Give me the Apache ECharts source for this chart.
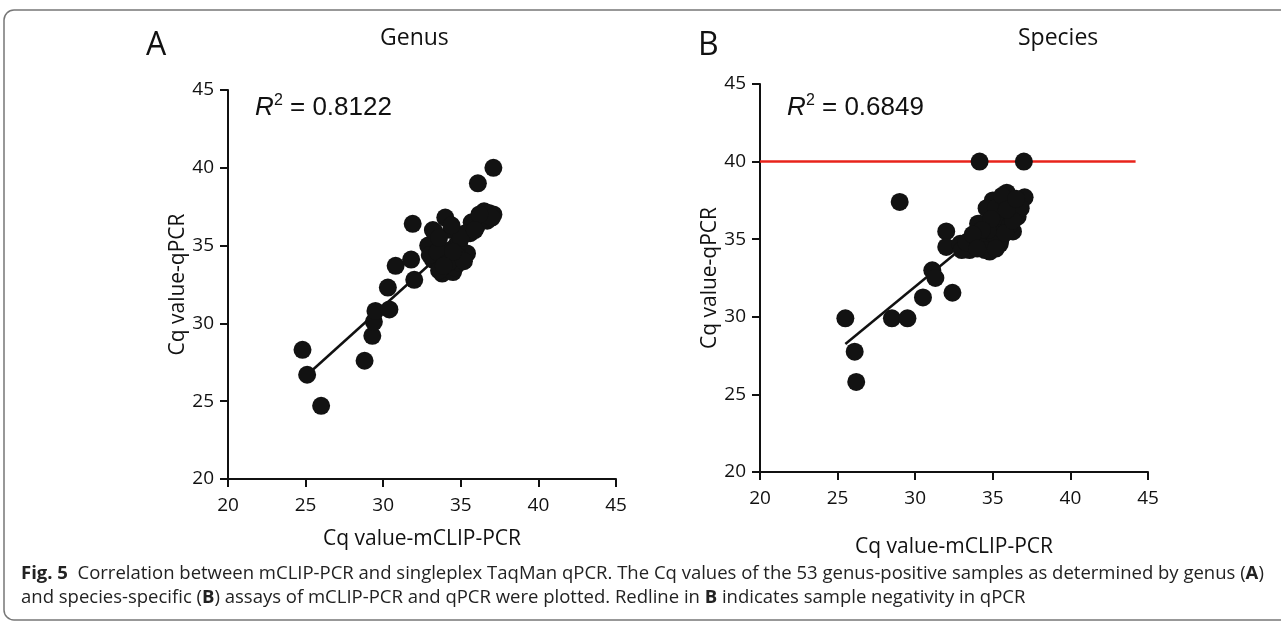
<!DOCTYPE html>
<html>
<head>
<meta charset="utf-8">
<script src="https://cdn.jsdelivr.net/npm/echarts@6/dist/echarts.min.js"></script>
<style>
  html, body { margin: 0; padding: 0; background: #fff; }
  #chart { width: 1281px; height: 623px; }
</style>
</head>
<body>
<div id="chart"></div>
<script>
// axis ticks shared by both panels
const axisMin = 20
const axisMax = 45
const axisStep = 5

// panel A: genus assay, [mCLIP-PCR Cq, qPCR Cq]
const genusPoints = [
  [24.8, 28.3], [25.1, 26.7], [26.0, 24.7], [28.8, 27.6], [29.3, 29.2],
  [29.4, 30.1], [29.5, 30.8], [30.4, 30.9], [30.3, 32.3], [30.8, 33.7],
  [31.8, 34.1], [32.0, 32.8], [31.9, 36.4], [33.3, 35.9], [32.9, 35.0],
  [34.0, 36.8], [33.2, 34.1], [33.8, 33.2], [34.5, 33.3], [35.4, 34.5],
  [35.6, 35.8], [36.1, 39.0], [37.1, 40.0], [36.3, 36.9], [36.8, 37.1],
  [37.1, 37.0], [36.5, 37.2], [36.0, 36.2], [33.2, 36.0], [34.4, 36.0],
  [34.7, 35.0], [34.1, 34.1], [33.6, 33.4], [34.6, 33.6], [34.9, 33.9],
  [34.3, 34.7], [35.7, 36.5], [35.3, 35.8], [33.0, 34.4], [33.5, 34.6],
  [34.9, 35.2], [34.8, 34.3], [35.0, 35.5], [36.7, 36.6], [37.0, 36.8],
  [33.6, 35.5], [34.2, 33.9], [35.2, 34.0], [36.2, 37.0], [34.5, 34.6],
  [33.9, 33.7], [35.9, 36.0], [34.4, 36.3]
]
const genusFit = [[25.5, 27.05], [37.0, 37.4]]

// panel B: species assay
const speciesPoints = [
  [25.5, 29.9], [26.1, 27.75], [26.2, 25.8], [28.5, 29.9], [29.5, 29.9],
  [29.0, 37.4], [30.5, 31.25], [32.4, 31.55], [31.1, 33.0], [31.3, 32.5],
  [32.0, 35.5], [32.0, 34.5], [34.15, 40.0], [37.0, 40.0], [37.05, 37.7],
  [35.9, 38.0], [35.0, 37.5], [34.6, 37.0], [36.6, 36.45], [34.15, 36.0],
  [36.3, 35.5], [35.45, 34.7], [34.8, 34.2], [33.5, 34.3], [32.9, 34.7],
  [35.6, 36.0], [34.05, 36.0], [33.0, 34.3], [33.8, 34.6], [34.4, 34.8],
  [35.0, 35.4], [35.5, 35.0], [36.0, 36.8], [35.3, 36.5], [34.7, 35.6],
  [34.0, 35.1], [35.8, 37.2], [36.4, 37.3], [35.2, 37.0], [34.5, 34.3],
  [33.3, 34.8], [36.1, 35.9], [35.8, 35.4], [34.9, 36.3], [35.6, 37.8],
  [36.8, 37.0], [34.3, 35.6], [35.2, 34.4], [36.3, 36.2], [33.7, 35.3],
  [34.0, 34.4], [35.9, 36.9], [36.5, 37.6]
]
const speciesFit = [[25.5, 28.25], [37.0, 37.7]]
const negativeLine = [[20, 40], [44.2, 40]]

const fontMain = '"Open Sans", sans-serif'

function makeAxis(gridIndex, name, gap, labelMargin) {
  return {
    type: 'value',
    gridIndex,
    min: axisMin,
    max: axisMax,
    interval: axisStep,
    name,
    nameLocation: 'middle',
    nameGap: gap,
    nameTextStyle: { fontFamily: fontMain, fontSize: 21, color: '#111' },
    axisLine: { show: true, lineStyle: { color: '#111', width: 2 } },
    axisTick: { show: true, length: 8, lineStyle: { color: '#111', width: 2 } },
    axisLabel: { fontFamily: fontMain, fontSize: 19, color: '#111', margin: labelMargin },
    splitLine: { show: false }
  }
}

function dots(xi, data) {
  return {
    type: 'scatter', xAxisIndex: xi, yAxisIndex: xi, data,
    symbolSize: 18, itemStyle: { color: '#121212', opacity: 1 },
    silent: true, z: 3
  }
}

function fitLine(xi, data, color, width, z) {
  return {
    type: 'line', xAxisIndex: xi, yAxisIndex: xi, data,
    symbol: 'none', lineStyle: { color, width }, silent: true, z
  }
}

function r2(x, value) {
  return [
    { type: 'text', left: x, top: 95, style: { text: 'R', font: 'italic 26px "Liberation Sans"', fill: '#111' } },
    { type: 'text', left: x + 19, top: 93, style: { text: '2', font: '16px "Liberation Sans"', fill: '#111' } },
    { type: 'text', left: x + 35, top: 95, style: { text: '= ' + value, font: '26px "Liberation Sans"', fill: '#111' } }
  ]
}

const chart = echarts.init(document.getElementById('chart'))

chart.setOption({
  animation: false,
  grid: [
    { left: 228, right: 665, top: 90, bottom: 144 },
    { left: 760, right: 133, top: 84, bottom: 151 }
  ],
  xAxis: [
    makeAxis(0, 'Cq value-mCLIP-PCR', 50, 17),
    makeAxis(1, 'Cq value-mCLIP-PCR', 65, 17)
  ],
  yAxis: [
    makeAxis(0, 'Cq value-qPCR', 37, 14),
    makeAxis(1, 'Cq value-qPCR', 37, 14)
  ],
  series: [
    fitLine(0, genusFit, '#111', 2.5, 2),
    dots(0, genusPoints),
    fitLine(1, speciesFit, '#111', 2.5, 2),
    fitLine(1, negativeLine, '#e8231b', 2.5, 1),
    dots(1, speciesPoints)
  ],
  graphic: [
    { type: 'rect', shape: { x: 4, y: 10, width: 1300, height: 610, r: 10 },
      style: { fill: 'none', stroke: '#777', lineWidth: 1.5 }, silent: true },
    { type: 'text', left: 146, top: 30, style: { text: 'A', font: '32px "Open Sans"', fill: '#111' } },
    { type: 'text', left: 380, top: 27, style: { text: 'Genus', font: '23px "Open Sans"', fill: '#111' } },
    { type: 'text', left: 698, top: 30, style: { text: 'B', font: '32px "Open Sans"', fill: '#111' } },
    { type: 'text', left: 1018, top: 27, style: { text: 'Species', font: '23px "Open Sans"', fill: '#111' } },
    ...r2(255, '0.8122'),
    ...r2(787, '0.6849'),
    {
      type: 'text', left: 21, top: 562,
      style: {
        text: '{b|Fig. 5}  Correlation between mCLIP-PCR and singleplex TaqMan qPCR. The Cq values of the 53 genus-positive samples as determined by genus ({b|A})\n' +
              'and species-specific ({b|B}) assays of mCLIP-PCR and qPCR were plotted. Redline in {b|B} indicates sample negativity in qPCR',
        font: '18.5px "Open Sans"',
        fill: '#222',
        lineHeight: 24,
        rich: {
          b: { fontWeight: 'bold', fontFamily: 'Open Sans', fontSize: 18.5, fill: '#222', lineHeight: 24 }
        }
      }
    }
  ]
})
</script>
</body>
</html>
